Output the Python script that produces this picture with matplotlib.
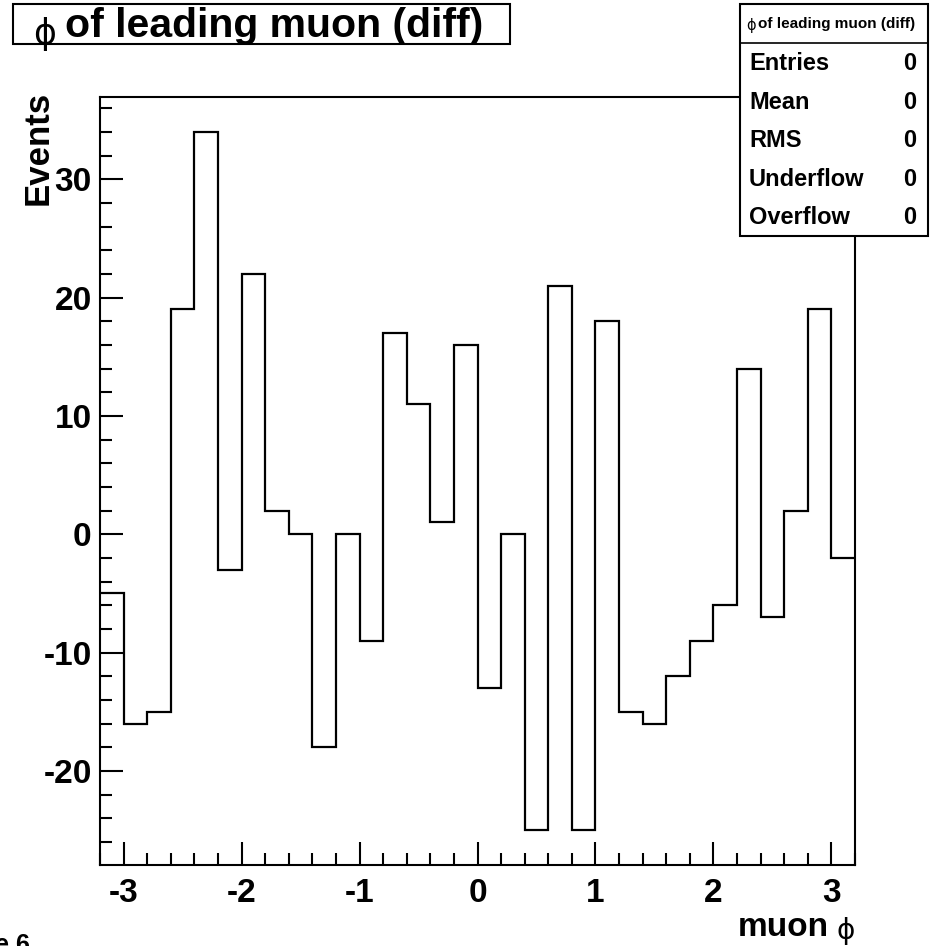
import matplotlib
matplotlib.use('Agg')
import matplotlib.pyplot as plt
from matplotlib.patches import Rectangle
from matplotlib.ticker import MultipleLocator
import numpy as np

# histogram contents, 32 bins of width 0.2 from -3.2 to 3.2
bin_lo = -3.2
bin_hi = 3.2
counts = [-5, -16, -15, 19, 34, -3, 22, 2, 0, -18, 0, -9, 17, 11, 1, 16,
          -13, 0, -25, 21, -25, 18, -15, -16, -12, -9, -6, 14, -7, 2, 19, -2]

stat_names = ['Entries', 'Mean', 'RMS', 'Underflow', 'Overflow']
stat_values = ['0', '0', '0', '0', '0']

title_text = 'of leading muon (diff)'
phi = '\u03d5'

plt.rcParams['font.family'] = ['Liberation Sans', 'DejaVu Sans']
plt.rcParams['font.weight'] = 'bold'
plt.rcParams['axes.unicode_minus'] = False

W, H = 941, 946
fig = plt.figure(figsize=(W / 100, H / 100), dpi=100)
rend = fig.canvas.get_renderer()


def fx(x):
    return x / W


def fy(y):
    return 1 - y / H


def phi_then_text(x_left, base_y, text, size, phi_size, phi_drop, sep):
    # ROOT's #phi comes from the symbol font: thin and sitting low
    p = fig.text(fx(x_left), fy(base_y + phi_drop), phi, family='DejaVu Sans',
                 weight='normal', size=phi_size, ha='left', va='baseline')
    w = p.get_window_extent(rend).width
    fig.text(fx(x_left + w + sep), fy(base_y), text, size=size, weight='bold',
             ha='left', va='baseline')


# axes box in pixels: left 100, right 855, top 97, bottom 865
ax = fig.add_axes([fx(100), fy(865), fx(855) - fx(100), fy(97) - fy(865)])

edges = np.linspace(bin_lo, bin_hi, len(counts) + 1)
ax.stairs(counts, edges, color='black', lw=1.6, baseline=None)

lo, hi = min(counts), max(counts)
pad = 0.05 * (hi - lo)
ax.set_xlim(bin_lo, bin_hi)
ax.set_ylim(lo - pad, hi + pad)

ax.xaxis.set_major_locator(MultipleLocator(1))
ax.xaxis.set_minor_locator(MultipleLocator(0.2))
ax.yaxis.set_major_locator(MultipleLocator(10))
ax.yaxis.set_minor_locator(MultipleLocator(2))
ax.tick_params(which='both', direction='in', width=1.5, labelsize=24)
ax.tick_params(axis='y', pad=6)
ax.tick_params(axis='x', pad=9)
ax.tick_params(which='major', length=16.5)
ax.tick_params(which='minor', length=8.5)
for s in ax.spines.values():
    s.set_linewidth(1.5)

ax.set_ylabel('Events', fontsize=25, fontweight='bold', loc='top')
ax.yaxis.set_label_coords(-0.06, 1.008)

# x axis title "muon phi", right aligned with the frame
p = fig.text(fx(855), fy(939), phi, family='DejaVu Sans', weight='normal', size=20,
             ha='right', va='baseline')
pw = p.get_window_extent(rend).width
fig.text(fx(855 - pw - 8), fy(936), 'muon', size=24, weight='bold', ha='right', va='baseline')

# title box
fig.add_artist(Rectangle((fx(13), fy(44)), fx(510) - fx(13), fy(4) - fy(44),
                         transform=fig.transFigure, fill=False, lw=1.5, color='black'))
phi_then_text(33, 37, title_text, 29.5, 25, 7, 9)

# stat box
bx0, bx1, by0, by1 = 740, 928, 4, 236
fig.add_artist(Rectangle((fx(bx0), fy(by1)), fx(bx1) - fx(bx0), fy(by0) - fy(by1),
                         transform=fig.transFigure, facecolor='white', edgecolor='black', lw=1.5))
fig.add_artist(plt.Line2D([fx(bx0), fx(bx1)], [fy(43), fy(43)], transform=fig.transFigure,
                          color='black', lw=1.2))
phi_then_text(746, 28, title_text, 11, 10.5, 2, 2)
for i, (name, val) in enumerate(zip(stat_names, stat_values)):
    yy = 64 + i * 38.4
    fig.text(fx(749), fy(yy), name, ha='left', va='center', fontsize=17, fontweight='bold')
    fig.text(fx(916), fy(yy), val, ha='right', va='center', fontsize=17, fontweight='bold')

# leftover page label, cut at the bottom-left corner
fig.text(fx(30), fy(933), 'e 6', ha='right', va='top', fontsize=18, fontweight='bold')

fig.savefig('out.png', dpi=100)
